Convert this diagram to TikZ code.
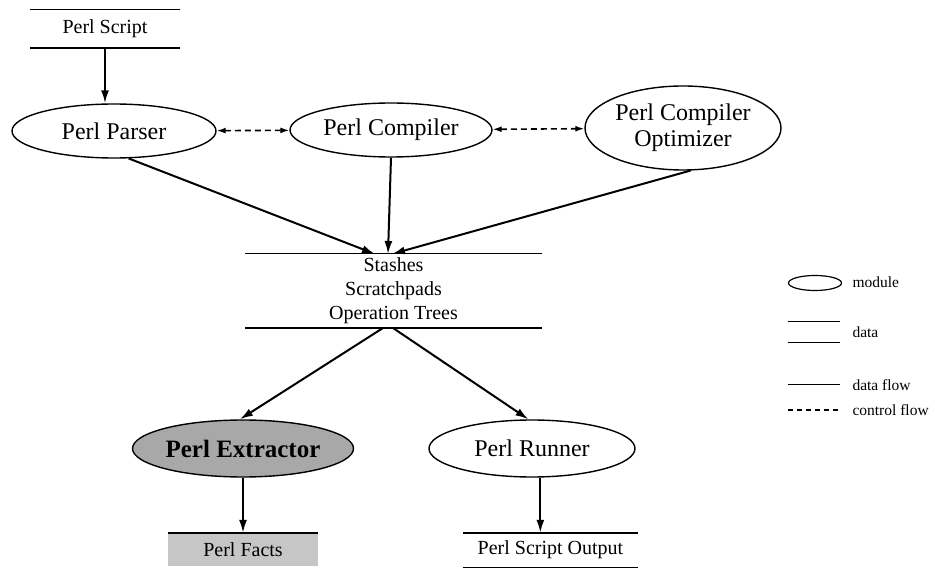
\documentclass[tikz,border=0pt]{standalone}
\usepackage{fontspec}
\setmainfont{Liberation Serif}
\usetikzlibrary{shapes.geometric,arrows.meta}
\begin{document}
\begin{tikzpicture}[x=1pt,y=-1pt,
  module/.style={draw,ellipse,line width=1.4pt,inner sep=0pt,font=\fontsize{24}{26}\selectfont},
  store/.style={inner sep=0pt,align=center},
  flow/.style={line width=2pt,-{Latex[length=13pt,width=8pt]}},
  ctrl/.style={line width=1.6pt,dash pattern=on 6pt off 4pt,{Latex[length=9pt,width=6pt]}-{Latex[length=9pt,width=6pt]}},
  rule/.style={line width=1.4pt},
  legtext/.style={anchor=west,font=\fontsize{15.5}{17}\selectfont}]
\useasboundingbox (0,0) rectangle (935,569);

% data stores
\node[store,minimum width=150pt,minimum height=38pt,font=\fontsize{20}{22}\selectfont] (script) at (105,29) {Perl Script};
\draw[rule] (script.north west) -- (script.north east) (script.south west) -- (script.south east);

\node[store,minimum width=297pt,minimum height=74pt,font=\fontsize{20}{24}\selectfont] (stash) at (393.5,291) {Stashes\\Scratchpads\\Operation Trees};
\draw[rule] (stash.north west) -- (stash.north east) (stash.south west) -- (stash.south east);
\coordinate (sin1) at (375,254);
\coordinate (sin2) at (388,254);
\coordinate (sin3) at (392,254);
\coordinate (sout1) at (383,328);
\coordinate (sout2) at (393,328);

\node[store,minimum width=150pt,minimum height=33pt,fill=gray!45,font=\fontsize{20}{22}\selectfont] (facts) at (243,549.5) {Perl Facts};
\draw[rule] (facts.north west) -- (facts.north east);

\node[store,minimum width=175pt,minimum height=34pt,font=\fontsize{20}{22}\selectfont] (output) at (550.5,550) {Perl Script Output};
\draw[rule] (output.north west) -- (output.north east) (output.south west) -- (output.south east);

% modules
\node[module,minimum width=204pt,minimum height=54pt] (parser) at (114,131) {Perl Parser};
\node[module,minimum width=202pt,minimum height=54pt] (compiler) at (391,130) {Perl Compiler};
\node[module,minimum width=196pt,minimum height=84pt,align=center] (optim) at (683,128) {Perl Compiler\\Optimizer};
\node[module,minimum width=221pt,minimum height=57pt,fill=gray!68,font=\fontsize{25}{27}\selectfont\bfseries] (extr) at (243,448.5) {Perl Extractor};
\node[module,minimum width=206pt,minimum height=57pt] (runner) at (532,448.5) {Perl Runner};

% data flow
\draw[flow] (script.south) -- (script.south |- parser.north);
\draw[flow] (parser.-62) -- (sin1);
\draw[flow] (compiler.south) -- (sin2);
\draw[flow] (optim.-80) -- (sin3);
\draw[flow] (sout1) -- (extr.96);
\draw[flow] (sout2) -- (runner.97);
\draw[flow] (extr.south) -- (facts.north);
\draw[flow] (runner.-74) -- (runner.-74 |- output.north);

% control flow
\draw[ctrl] (parser) -- (compiler);
\draw[ctrl] (compiler) -- (optim);

% legend
\node[draw,ellipse,line width=1.2pt,minimum width=53pt,minimum height=15pt,inner sep=0pt] (lmod) at (815,283) {};
\node[legtext] at (849,282) {module};
\coordinate (ld1) at (788,322); \coordinate (ld2) at (840,322);
\coordinate (ld3) at (788,343); \coordinate (ld4) at (840,343);
\draw[line width=1pt] (ld1) -- (ld2) (ld3) -- (ld4);
\node[legtext] at (849,332) {data};
\coordinate (lf1) at (788,385); \coordinate (lf2) at (840,385);
\draw[line width=1pt] (lf1) -- (lf2);
\node[legtext] at (849,385) {data flow};
\coordinate (lc1) at (788,410); \coordinate (lc2) at (840,410);
\draw[line width=1.4pt,dash pattern=on 5pt off 4pt] (lc1) -- (lc2);
\node[legtext] at (849,410) {control flow};
\end{tikzpicture}
\end{document}
